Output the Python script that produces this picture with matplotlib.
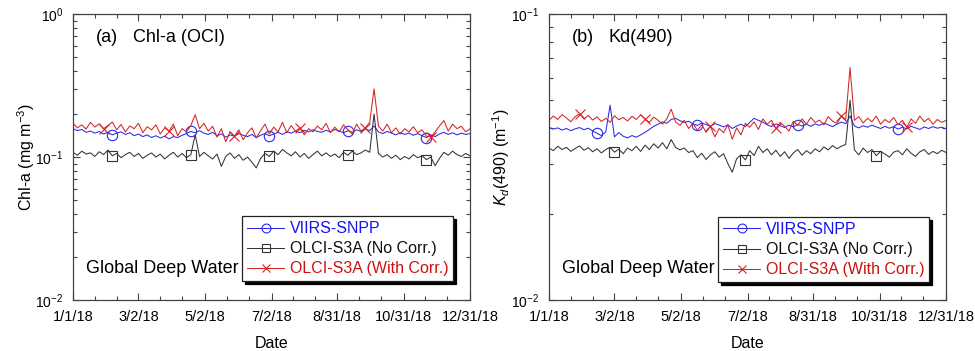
import numpy as np
import pandas as pd
import matplotlib
matplotlib.use('Agg')
from matplotlib import pyplot as plt
import matplotlib.dates as mdates
from matplotlib.ticker import LogLocator, FixedLocator, NullFormatter

plt.rcParams['font.family'] = ['Liberation Sans', 'DejaVu Sans']
plt.rcParams['mathtext.fontset'] = 'custom'
plt.rcParams['mathtext.rm'] = 'Liberation Sans'
plt.rcParams['mathtext.it'] = 'Liberation Sans:italic'

# 4-day sampled series, 1/1/18 .. 12/31/18
dates = pd.date_range('2018-01-01', '2018-12-31', freq='4D')

chl_viirs = [0.158, 0.153, 0.156, 0.149, 0.152, 0.147, 0.151, 0.145, 0.149, 0.143,
             0.147, 0.150, 0.144, 0.148, 0.141, 0.145, 0.139, 0.143, 0.137, 0.141,
             0.136, 0.140, 0.134, 0.139, 0.137, 0.142, 0.146, 0.151, 0.148, 0.153,
             0.147, 0.144, 0.149, 0.141, 0.145, 0.138, 0.143, 0.140, 0.146, 0.142,
             0.139, 0.144, 0.137, 0.142, 0.146, 0.141, 0.145, 0.149, 0.144, 0.150,
             0.147, 0.152, 0.148, 0.154, 0.150, 0.155, 0.151, 0.149, 0.154, 0.150,
             0.156, 0.152, 0.148, 0.153, 0.149, 0.155, 0.151, 0.157, 0.153, 0.165,
             0.150, 0.146, 0.151, 0.147, 0.143, 0.148, 0.144, 0.147, 0.142, 0.146,
             0.141, 0.137, 0.143, 0.139, 0.145, 0.149, 0.144, 0.148, 0.143, 0.147,
             0.144, 0.146]
chl_olci_nc = [0.108, 0.103, 0.110, 0.105, 0.107, 0.101, 0.109, 0.104, 0.112, 0.102,
               0.106, 0.099, 0.104, 0.108, 0.101, 0.106, 0.098, 0.103, 0.107, 0.100,
               0.105, 0.097, 0.103, 0.108, 0.100, 0.106, 0.099, 0.104, 0.143, 0.101,
               0.108, 0.102, 0.097, 0.105, 0.086, 0.101, 0.107, 0.098, 0.104, 0.095,
               0.100, 0.092, 0.084, 0.098, 0.106, 0.101, 0.110, 0.104, 0.113, 0.107,
               0.102, 0.109, 0.100, 0.106, 0.098, 0.104, 0.110, 0.102, 0.107, 0.101,
               0.105, 0.099, 0.108, 0.103, 0.110, 0.104, 0.107, 0.112, 0.108, 0.200,
               0.106, 0.100, 0.104, 0.098, 0.103, 0.096, 0.101, 0.097, 0.104, 0.099,
               0.102, 0.096, 0.100, 0.087, 0.098, 0.108, 0.103, 0.110, 0.104, 0.101,
               0.106, 0.102]
chl_olci_wc = [0.172, 0.160, 0.168, 0.157, 0.175, 0.162, 0.171, 0.158, 0.166, 0.176,
               0.155, 0.169, 0.150, 0.165, 0.158, 0.172, 0.148, 0.163, 0.155, 0.168,
               0.145, 0.160, 0.152, 0.170, 0.141, 0.158, 0.150, 0.166, 0.198, 0.158,
               0.172, 0.152, 0.164, 0.138, 0.158, 0.128, 0.150, 0.140, 0.155, 0.132,
               0.148, 0.160, 0.136, 0.153, 0.170, 0.145, 0.162, 0.150, 0.175, 0.148,
               0.166, 0.152, 0.160, 0.143, 0.158, 0.150, 0.165, 0.155, 0.172, 0.148,
               0.162, 0.150, 0.168, 0.155, 0.145, 0.170, 0.152, 0.160, 0.175, 0.300,
               0.165, 0.152, 0.170, 0.148, 0.160, 0.145, 0.158, 0.150, 0.163, 0.148,
               0.155, 0.140, 0.138, 0.150, 0.165, 0.180, 0.152, 0.170, 0.158, 0.164,
               0.150, 0.158]

kd_viirs = [0.0402, 0.0396, 0.0400, 0.0393, 0.0398, 0.0391, 0.0397, 0.0401, 0.0394, 0.0399,
            0.0390, 0.0383, 0.0376, 0.0387, 0.0480, 0.0372, 0.0385, 0.0374, 0.0369, 0.0376,
            0.0371, 0.0378, 0.0386, 0.0395, 0.0405, 0.0412, 0.0420, 0.0415, 0.0428, 0.0432,
            0.0424, 0.0418, 0.0422, 0.0413, 0.0408, 0.0416, 0.0411, 0.0405, 0.0414, 0.0409,
            0.0403, 0.0410, 0.0398, 0.0406, 0.0412, 0.0404, 0.0418, 0.0432, 0.0425, 0.0419,
            0.0410, 0.0404, 0.0413, 0.0407, 0.0401, 0.0409, 0.0403, 0.0411, 0.0406, 0.0412,
            0.0405, 0.0413, 0.0408, 0.0416, 0.0410, 0.0404, 0.0412, 0.0419, 0.0414, 0.0440,
            0.0406, 0.0400, 0.0407, 0.0402, 0.0409, 0.0403, 0.0398, 0.0405, 0.0399, 0.0404,
            0.0396, 0.0402, 0.0397, 0.0405, 0.0400, 0.0395, 0.0403, 0.0398, 0.0404, 0.0399,
            0.0402, 0.0397]
kd_olci_nc = [0.0340, 0.0333, 0.0345, 0.0336, 0.0342, 0.0331, 0.0339, 0.0346, 0.0334, 0.0341,
              0.0330, 0.0338, 0.0327, 0.0336, 0.0342, 0.0329, 0.0337, 0.0325, 0.0340, 0.0333,
              0.0345, 0.0331, 0.0348, 0.0336, 0.0352, 0.0340, 0.0355, 0.0338, 0.0364, 0.0342,
              0.0335, 0.0340, 0.0328, 0.0333, 0.0315, 0.0326, 0.0310, 0.0322, 0.0330, 0.0316,
              0.0325, 0.0300, 0.0280, 0.0312, 0.0322, 0.0309, 0.0333, 0.0320, 0.0345, 0.0328,
              0.0338, 0.0322, 0.0334, 0.0318, 0.0330, 0.0313, 0.0327, 0.0336, 0.0321, 0.0333,
              0.0325, 0.0338, 0.0330, 0.0343, 0.0335, 0.0347, 0.0338, 0.0345, 0.0350, 0.0500,
              0.0335, 0.0322, 0.0340, 0.0328, 0.0336, 0.0320, 0.0331, 0.0324, 0.0316, 0.0329,
              0.0333, 0.0322, 0.0338, 0.0326, 0.0318, 0.0330, 0.0336, 0.0323, 0.0331, 0.0325,
              0.0334, 0.0328]
kd_olci_wc = [0.0425, 0.0440, 0.0428, 0.0445, 0.0433, 0.0420, 0.0438, 0.0448, 0.0430, 0.0442,
              0.0426, 0.0437, 0.0421, 0.0432, 0.0418, 0.0441, 0.0427, 0.0435, 0.0423, 0.0439,
              0.0428, 0.0444, 0.0430, 0.0418, 0.0436, 0.0425, 0.0412, 0.0430, 0.0465, 0.0420,
              0.0408, 0.0425, 0.0398, 0.0415, 0.0392, 0.0410, 0.0386, 0.0405, 0.0372, 0.0398,
              0.0385, 0.0410, 0.0365, 0.0400, 0.0378, 0.0415, 0.0402, 0.0420, 0.0395, 0.0430,
              0.0412, 0.0425, 0.0398, 0.0418, 0.0405, 0.0390, 0.0422, 0.0408, 0.0430, 0.0412,
              0.0435, 0.0418, 0.0426, 0.0410, 0.0438, 0.0422, 0.0415, 0.0440, 0.0428, 0.0650,
              0.0425, 0.0438, 0.0416, 0.0432, 0.0420, 0.0440, 0.0412, 0.0428, 0.0418, 0.0435,
              0.0410, 0.0425, 0.0402, 0.0430, 0.0415, 0.0440, 0.0420, 0.0432, 0.0412, 0.0428,
              0.0418, 0.0425]

labels = ['VIIRS-SNPP', 'OLCI-S3A (No Corr.)', 'OLCI-S3A (With Corr.)']
colors = ['#2a2ae8', '#333333', '#d42424']
text_colors = ['#1414f0', '#111111', '#cc1111']
markers = ['o', 's', 'x']

xtick_dates = ['2018-01-01', '2018-03-02', '2018-05-02', '2018-07-02',
               '2018-08-31', '2018-10-31', '2018-12-31']
xtick_labels = ['1/1/18', '3/2/18', '5/2/18', '7/2/18', '8/31/18', '10/31/18', '12/31/18']
xminor_dates = ['2018-01-21', '2018-02-10', '2018-03-22', '2018-04-11',
                '2018-05-22', '2018-06-11', '2018-07-22', '2018-08-11',
                '2018-09-20', '2018-10-10', '2018-11-20', '2018-12-10']

fig = plt.figure(figsize=(9.75, 3.51), dpi=100)
ax1 = fig.add_axes([0.0749, 0.145, 0.4072, 0.815])
ax2 = fig.add_axes([0.5631, 0.145, 0.4072, 0.815])

panels = [
    (ax1, [chl_viirs, chl_olci_nc, chl_olci_wc], [(9, 18), (9, 18), (7, 15)],
     (1e-2, 1e0), '(a)', 'Chl-a (OCI)', 'Chl-a (mg m$^{-3}$)', (0.957, 0.066)),
    (ax2, [kd_viirs, kd_olci_nc, kd_olci_wc], [(11, 23), (15, 30), (7, 15)],
     (1e-2, 1e-1), '(b)', 'Kd(490)', '$K_d$(490) (m$^{-1}$)', (0.957, 0.063)),
]

for ax, series, marks, ylim, tag, title, ylabel, leg_anchor in panels:
    for vals, mk, me, c, lab in zip(series, markers, marks, colors, labels):
        ax.plot(dates, vals, color=c, lw=0.75, marker=mk, markevery=me, ms=7.5,
                mfc='none', mec=c, mew=0.8, label=lab)
    ax.set_yscale('log')
    ax.set_ylim(*ylim)
    ax.set_xlim(pd.Timestamp('2018-01-01'), pd.Timestamp('2018-12-31'))
    ax.yaxis.set_major_locator(LogLocator(base=10, numticks=5))
    ax.yaxis.set_minor_locator(LogLocator(base=10, subs=np.arange(2, 10), numticks=20))
    ax.yaxis.set_minor_formatter(NullFormatter())
    ax.xaxis.set_major_locator(FixedLocator(mdates.date2num(pd.to_datetime(xtick_dates))))
    ax.xaxis.set_minor_locator(FixedLocator(mdates.date2num(pd.to_datetime(xminor_dates))))
    ax.set_xticklabels(xtick_labels)
    ax.tick_params(which='both', direction='in', top=True, right=True,
                   color='#444444')
    ax.tick_params(axis='x', labelsize=10.5, pad=7)
    ax.tick_params(axis='y', labelsize=10, pad=7)
    ax.tick_params(which='major', length=5, width=0.8)
    ax.tick_params(which='minor', length=3, width=0.8)
    for sp in ax.spines.values():
        sp.set_color('#444444')
        sp.set_linewidth(0.9)
    ax.set_xlabel('Date', fontsize=11.5, labelpad=9)
    ax.set_ylabel(ylabel, fontsize=11.5)
    ax.yaxis.set_label_coords(-0.092, 0.5)
    ax.text(0.058, 0.918, tag, transform=ax.transAxes, fontsize=13, va='center')
    ax.text(0.151, 0.918, title, transform=ax.transAxes, fontsize=13, va='center')
    ax.text(0.033, 0.094, 'Global Deep Water', transform=ax.transAxes, fontsize=13,
            va='baseline')
    leg = ax.legend(loc='lower right', bbox_to_anchor=leg_anchor, borderaxespad=0,
                    fontsize=11.5, fancybox=False, framealpha=1, edgecolor='#222222',
                    shadow={'color': 'black', 'alpha': 1, 'ox': 2.2, 'oy': -2.2},
                    handlelength=2.3, handletextpad=0.35, labelspacing=0.32,
                    borderpad=0.3, markerscale=0.85)
    leg.get_frame().set_linewidth(0.9)
    for txt, tc in zip(leg.get_texts(), text_colors):
        txt.set_color(tc)

fig.savefig('out.png', dpi=100)
